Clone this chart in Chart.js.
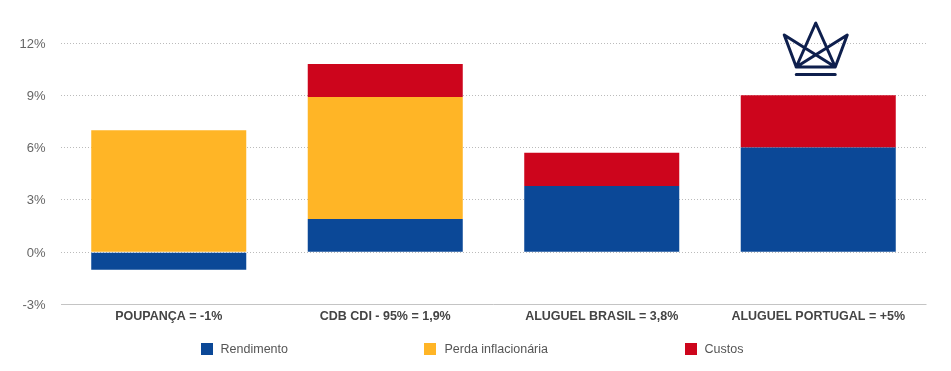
<!DOCTYPE html>
<html>
<head>
<meta charset="utf-8">
<style>
  html, body { margin: 0; padding: 0; background: #fff; }
  canvas { display: block; }
</style>
<script src="https://cdn.jsdelivr.net/npm/chart.js@4/dist/chart.umd.min.js"></script>
</head>
<body>
<canvas id="chart" width="951" height="371"></canvas>
<script>
const categories = ['POUPANÇA = -1%', 'CDB CDI - 95% = 1,9%', 'ALUGUEL BRASIL = 3,8%', 'ALUGUEL PORTUGAL = +5%'];
const rendimento = [-1, 1.9, 3.8, 6];
const perda = [7, 7, 0, 0];
const custos = [0, 1.9, 1.9, 3];

const fontFamily = '"Liberation Sans", Arial, sans-serif';

// crown logo above the last bar, offsets from the bar centre / 12% line
const crownPlugin = {
  id: 'crown',
  afterDatasetsDraw(chart) {
    const ctx = chart.ctx;
    ctx.save();
    ctx.translate(chart.scales.x.getPixelForValue(3) - 2.5, chart.scales.y.getPixelForValue(12));
    ctx.strokeStyle = '#0e1f4d';
    ctx.lineWidth = 3;
    ctx.lineCap = 'round';
    ctx.lineJoin = 'round';
    ctx.beginPath();
    ctx.moveTo(-19.5, 24);
    ctx.lineTo(-31.5, -8);
    ctx.lineTo(19.5, 24);
    ctx.lineTo(-19.5, 24);
    ctx.lineTo(31.5, -8);
    ctx.lineTo(19.5, 24);
    ctx.lineTo(0, -20);
    ctx.lineTo(-19.5, 24);
    ctx.moveTo(-19.5, 31.5);
    ctx.lineTo(19.5, 31.5);
    ctx.stroke();
    ctx.restore();
  }
};

// the built in legend uses its padding vertically too, so draw it here
const bottomLegend = {
  id: 'bottomLegend',
  afterDraw(chart) {
    const ctx = chart.ctx;
    const gap = 136.5;
    const box = 12;
    const boxGap = 8;
    ctx.save();
    ctx.font = '12.5px ' + fontFamily;
    ctx.textBaseline = 'middle';
    const widths = chart.data.datasets.map((d) => ctx.measureText(d.label).width);
    const total = widths.reduce((a, w) => a + w + box + boxGap, 0) + gap * (widths.length - 1);
    let x = (chart.width - total) / 2 - 3.5;
    const y = chart.height - 22;
    chart.data.datasets.forEach((d, i) => {
      ctx.fillStyle = d.backgroundColor;
      ctx.fillRect(Math.round(x), y - box / 2, box, box);
      ctx.fillStyle = '#555';
      ctx.fillText(d.label, x + box + boxGap, y + 0.5);
      x += box + boxGap + widths[i] + gap;
    });
    ctx.restore();
  }
};

Chart.defaults.font.family = fontFamily;
Chart.defaults.animation = false;

new Chart(document.getElementById('chart'), {
  type: 'bar',
  plugins: [crownPlugin, bottomLegend],
  data: {
    labels: categories,
    datasets: [
      { label: 'Rendimento', data: rendimento, backgroundColor: '#0b4897' },
      { label: 'Perda inflacionária', data: perda, backgroundColor: '#ffb526' },
      { label: 'Custos', data: custos, backgroundColor: '#cd051c' },
    ],
  },
  options: {
    responsive: false,
    layout: { padding: { top: 43, right: 24.5, bottom: 0, left: 0 } },
    datasets: { bar: { categoryPercentage: 1, barPercentage: 0.716, borderWidth: 0 } },
    scales: {
      x: {
        stacked: true,
        afterFit: (scale) => { scale.height = 66.5; },
        grid: { display: false, drawTicks: false },
        border: { display: false },
        ticks: { color: '#444', font: { size: 12.5, weight: 'bold' }, maxRotation: 0, padding: 5 },
      },
      y: {
        stacked: true,
        min: -3,
        max: 12,
        afterFit: (scale) => { scale.width = 60.5; },
        grid: {
          drawTicks: false,
          color: (c) => (c.tick.value === -3 ? '#c4c4c4' : '#bbb'),
        },
        border: {
          display: false,
          dash: (c) => (c.tick.value === -3 ? [] : [1, 2]),
        },
        ticks: {
          stepSize: 3,
          color: '#666',
          padding: 15,
          labelOffset: 1,
          font: { size: 13 },
          callback: (v) => v + '%',
        },
      },
    },
    plugins: {
      tooltip: { enabled: false },
      legend: { display: false },
    },
  },
});
</script>
</body>
</html>
